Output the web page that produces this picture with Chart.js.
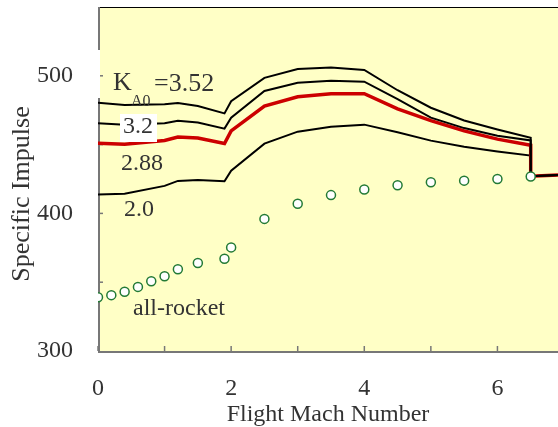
<!DOCTYPE html>
<html>
<head>
<meta charset="utf-8">
<script src="https://cdn.jsdelivr.net/npm/chart.js@4/dist/chart.umd.min.js"></script>
<style>
  html, body { margin: 0; padding: 0; background: #fff; overflow: hidden; }
  #wrap { width: 570px; height: 427px; }
</style>
</head>
<body>
<div id="wrap"><canvas id="c" width="570" height="427"></canvas></div>
<script>
const machLines = [0, 0.4, 1.0, 1.2, 1.5, 1.9, 2.0, 2.5, 3.0, 3.5, 4.0, 4.5, 5.0, 5.5, 6.0, 6.5, 6.5, 7.0];
const k352 = [480.4, 478.7, 479.4, 480.3, 478.0, 472.7, 481.5, 498.5, 505, 506, 504.3, 489.5, 476.8, 467.5, 461, 455, 427, 428];
const k32  = [465.5, 464.5, 465.5, 467.4, 466, 461.6, 469.5, 489, 495, 496.4, 495.7, 483, 469.6, 462, 456.5, 453, 427, 428];
const k288 = [451, 450.3, 453, 455.5, 454.8, 450.8, 460, 478, 484.8, 487, 487, 476, 467.4, 460, 454, 449.5, 427, 428];
const k20  = [413.8, 414.3, 420, 423.6, 424.3, 423.3, 431, 450.7, 459.4, 463, 464.5, 459, 452.9, 448.5, 445, 442, 427, 428];

// all-rocket points
const machRocket = [0, 0.2, 0.4, 0.6, 0.8, 1.0, 1.2, 1.5, 1.9, 2.0, 2.5, 3.0, 3.5, 4.0, 4.5, 5.0, 5.5, 6.0, 6.5];
const allRocket = [339, 340.6, 343, 346.6, 350.7, 354.3, 359.4, 364, 367, 375.3, 396, 407, 413.3, 417.4, 420.5, 422.6, 423.8, 425, 426.8];

const xTickLabels = [0, 2, 4, 6];
const yTickLabels = [300, 400, 500];

const FONT = "'Liberation Serif', 'Times New Roman', serif";
const TXT = "#333";

const pts = (xs, ys) => xs.map((x, i) => ({ x, y: ys[i] }));

// yellow plot background, axes and inward ticks
const frame = {
  id: "frame",
  beforeDatasetsDraw(chart) {
    const { ctx, chartArea: a, scales: { x, y } } = chart;
    ctx.save();
    ctx.fillStyle = "#ffffc6";
    ctx.fillRect(a.left, a.top, a.right - a.left, a.bottom - a.top);

    ctx.strokeStyle = "#000";
    ctx.lineWidth = 1;
    ctx.beginPath();
    ctx.moveTo(a.left, a.top + 0.5);
    ctx.lineTo(a.right, a.top + 0.5);
    ctx.stroke();

    ctx.strokeStyle = "#777";
    ctx.lineWidth = 1.5;
    for (let m = 0; m <= 7; m++) {
      const px = x.getPixelForValue(m);
      ctx.beginPath();
      ctx.moveTo(px, a.bottom);
      ctx.lineTo(px, a.bottom - 5);
      ctx.stroke();
    }
    for (let v = 350; v <= 500; v += 50) {
      const py = y.getPixelForValue(v);
      ctx.beginPath();
      ctx.moveTo(a.left, py);
      ctx.lineTo(a.left + 5, py);
      ctx.stroke();
    }

    ctx.lineWidth = 2;
    ctx.beginPath();
    ctx.moveTo(a.left + 1, a.top);
    ctx.lineTo(a.left + 1, a.bottom + 1);
    ctx.lineTo(a.right, a.bottom + 1);
    ctx.stroke();
    ctx.restore();
  },
  afterDraw(chart) {
    const { ctx } = chart;
    ctx.save();
    // white patch behind the K label covering the axis
    ctx.fillStyle = "#fff";
    ctx.fillRect(78, 50, 22, 48);
    ctx.fillRect(120, 114, 37, 28);

    ctx.fillStyle = TXT;
    ctx.textBaseline = "alphabetic";
    ctx.textAlign = "left";
    ctx.font = `26px ${FONT}`;
    ctx.fillText("K", 113, 90);
    ctx.fillText("=3.52", 154, 91);
    ctx.font = `16px ${FONT}`;
    ctx.fillText("A0", 131, 106);
    ctx.font = `24px ${FONT}`;
    ctx.fillText("3.2", 123, 133);
    ctx.fillText("2.88", 121, 170);
    ctx.fillText("2.0", 124, 216);
    ctx.fillText("all-rocket", 133, 315);

    ctx.textAlign = "center";
    ctx.fillText("Flight Mach Number", 328, 421);

    ctx.translate(29, 194);
    ctx.rotate(-Math.PI / 2);
    ctx.font = `26px ${FONT}`;
    ctx.fillText("Specific Impulse", 0, 0);
    ctx.restore();
  }
};

const line = (label, data, color, width) => ({
  label,
  data: pts(machLines, data),
  showLine: true,
  borderColor: color,
  borderWidth: width,
  pointRadius: 0,
  tension: 0,
  fill: false
});

const noPad = s => {
  s.paddingTop = 0;
  s.paddingBottom = 0;
  s.paddingLeft = 0;
  s.paddingRight = 0;
};

new Chart(document.getElementById("c"), {
  type: "scatter",
  data: {
    datasets: [
      {
        label: "all-rocket",
        data: pts(machRocket, allRocket),
        showLine: false,
        pointRadius: 4.5,
        pointBorderWidth: 1.5,
        pointBorderColor: "#237a35",
        pointBackgroundColor: "#fff"
      },
      line("K_A0 = 3.52", k352, "#000", 2),
      line("K_A0 = 3.2", k32, "#000", 2),
      line("K_A0 = 2.88", k288, "#cc0000", 3.5),
      line("K_A0 = 2.0", k20, "#000", 2)
    ]
  },
  options: {
    responsive: false,
    animation: false,
    layout: { padding: { top: 7, right: 6, left: 0, bottom: 0 } },
    plugins: { legend: { display: false }, tooltip: { enabled: false } },
    scales: {
      x: {
        type: "linear",
        min: 0,
        max: 7,
        grid: { display: false, drawTicks: false },
        border: { display: false },
        ticks: {
          stepSize: 1,
          padding: 23,
          color: TXT,
          font: { family: FONT, size: 24 },
          maxRotation: 0,
          callback: v => (xTickLabels.includes(v) ? String(v) : "")
        },
        afterFit: s => { s.height = 76; noPad(s); }
      },
      y: {
        min: 300,
        max: 550,
        grid: { display: false, drawTicks: false },
        border: { display: false },
        ticks: {
          stepSize: 50,
          padding: 25,
          color: TXT,
          font: { family: FONT, size: 24 },
          callback: v => (yTickLabels.includes(v) ? String(v) : "")
        },
        afterFit: s => { s.width = 98; noPad(s); }
      }
    }
  },
  plugins: [frame]
});
</script>
</body>
</html>
